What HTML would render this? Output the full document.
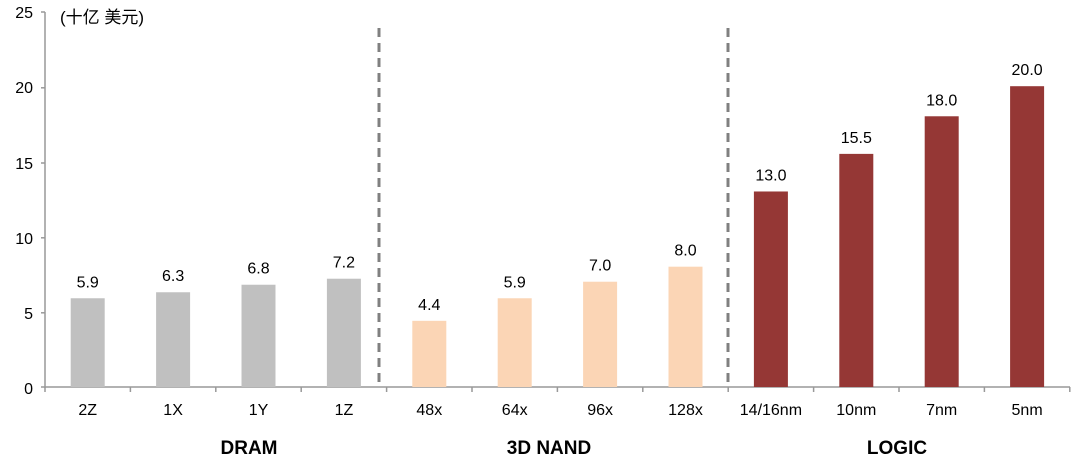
<!DOCTYPE html>
<html><head><meta charset="utf-8"><style>
body{margin:0;background:#fff}
svg text{font-family:"Liberation Sans","Noto Sans CJK SC",sans-serif}
</style></head><body>
<svg width="1080" height="462" xmlns="http://www.w3.org/2000/svg">
<g stroke="#999" stroke-width="1.5">
<line x1="45" y1="12" x2="45" y2="388"/>
<line x1="45" y1="387" x2="1070" y2="387"/>
<line x1="41" y1="12" x2="45" y2="12"/>
<line x1="41" y1="87.8" x2="45" y2="87.8"/>
<line x1="41" y1="163" x2="45" y2="163"/>
<line x1="41" y1="237.8" x2="45" y2="237.8"/>
<line x1="41" y1="312.8" x2="45" y2="312.8"/>
<line x1="41" y1="387" x2="45" y2="387"/>
</g>
<g stroke="#999" stroke-width="1.5" id="xt"></g>
<g font-size="16" fill="#000" text-anchor="end">
<text x="33" y="18">25</text><text x="33" y="93">20</text><text x="33" y="169">15</text><text x="33" y="244">10</text><text x="33" y="319">5</text><text x="33" y="394">0</text>
</g>
<text x="60" y="23" font-size="17">(十亿 美元)</text>
<g stroke="#808080" stroke-width="3" stroke-dasharray="9,6">
<line x1="379" y1="28" x2="379" y2="386"/>
<line x1="728" y1="28" x2="728" y2="386"/>
</g>
<g id="bars"></g>
<g font-size="15" text-anchor="middle" fill="#000">
<text x="249" y="454" font-size="19" font-weight="bold">DRAM</text>
<text x="549" y="454" font-size="19" font-weight="bold">3D NAND</text>
<text x="897" y="454" font-size="19" font-weight="bold">LOGIC</text>
</g>
<script>
var d=[["2Z",5.9,"#c0c0c0"],["1X",6.3,"#c0c0c0"],["1Y",6.8,"#c0c0c0"],["1Z",7.2,"#c0c0c0"],["48x",4.4,"#fbd5b5"],["64x",5.9,"#fbd5b5"],["96x",7.0,"#fbd5b5"],["128x",8.0,"#fbd5b5"],["14/16nm",13.0,"#953735"],["10nm",15.5,"#953735"],["7nm",18.0,"#953735"],["5nm",20.0,"#953735"]];
var ns="http://www.w3.org/2000/svg",g=document.getElementById("bars"),xt=document.getElementById("xt");
function el(t,a,p,tx){var e=document.createElementNS(ns,t);for(var k in a)e.setAttribute(k,a[k]);if(tx)e.textContent=tx;p.appendChild(e);}
for(var i=0;i<=12;i++){var x=45+i*85.4;el("line",{x1:x,y1:387,x2:x,y2:392},xt);}
d.forEach(function(v,i){var c=45+85.4*(i+0.5),h=v[1]*15.04,y=387-h;
el("rect",{x:c-17,y:y,width:34,height:h,fill:v[2]},g);
el("text",{x:c,y:y-11,"font-size":16,"text-anchor":"middle"},g,v[1].toFixed(1));
el("text",{x:c,y:415,"font-size":16,"text-anchor":"middle"},g,v[0]);});
</script>
</svg>
</body></html>
